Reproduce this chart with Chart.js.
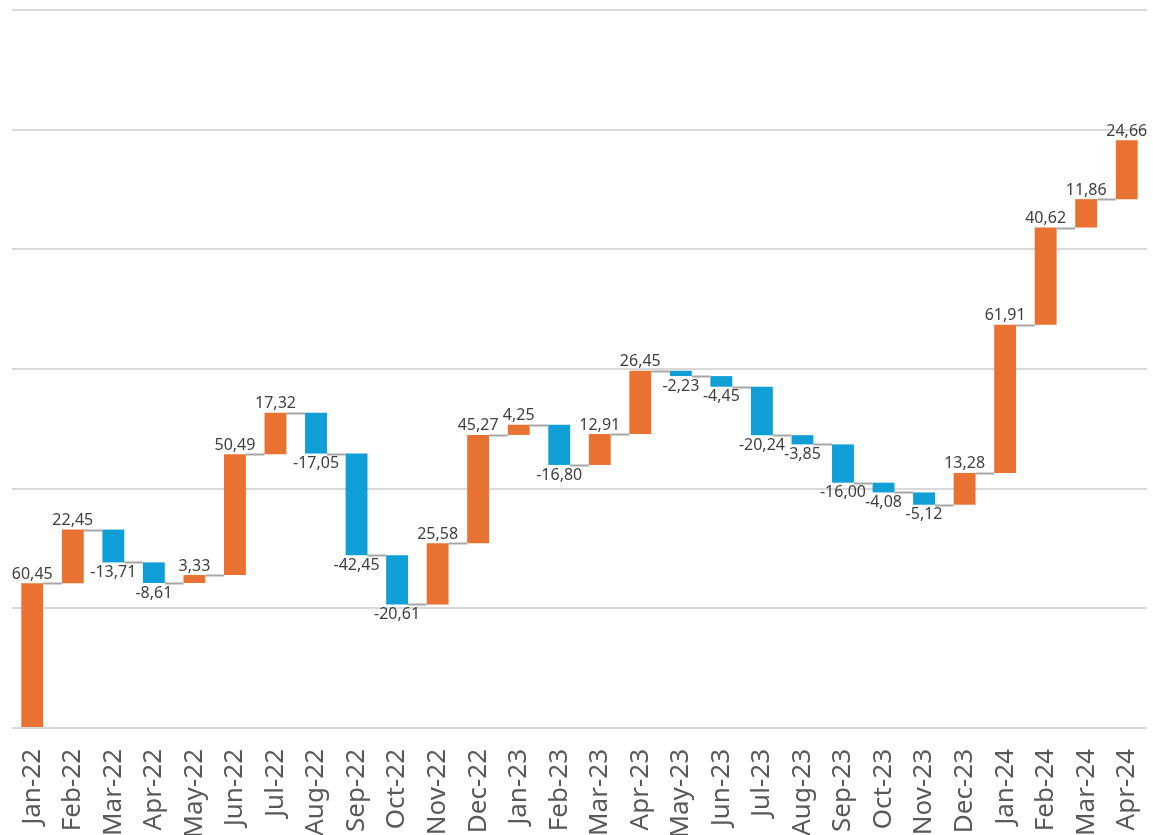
<!DOCTYPE html>
<html>
<head>
<meta charset="utf-8">
<script src="https://cdn.jsdelivr.net/npm/chart.js@4.4.1/dist/chart.umd.min.js"></script>
<style>
  html, body { margin: 0; padding: 0; background: #fff; overflow: hidden; }
  #wrap { position: relative; width: 1153px; height: 860px; }
</style>
</head>
<body>
<div id="wrap"><canvas id="chart"></canvas></div>
<script>
const categories = ['Jan-22', 'Feb-22', 'Mar-22', 'Apr-22', 'May-22', 'Jun-22', 'Jul-22', 'Aug-22',
    'Sep-22', 'Oct-22', 'Nov-22', 'Dec-22', 'Jan-23', 'Feb-23', 'Mar-23', 'Apr-23', 'May-23',
    'Jun-23', 'Jul-23', 'Aug-23', 'Sep-23', 'Oct-23', 'Nov-23', 'Dec-23', 'Jan-24', 'Feb-24',
    'Mar-24', 'Apr-24'];
const changes = [60.45, 22.45, -13.71, -8.61, 3.33, 50.49, 17.32, -17.05, -42.45, -20.61, 25.58,
    45.27, 4.25, -16.80, 12.91, 26.45, -2.23, -4.45, -20.24, -3.85, -16.00, -4.08, -5.12, 13.28,
    61.91, 40.62, 11.86, 24.66];
const yTicks = [0, 50, 100, 150, 200, 250, 300];

const orange = '#E97132';
const blue = '#0F9ED5';

// running totals -> floating bars
const ranges = [];
let total = 0;
changes.forEach(v => {
    ranges.push([total, total + v]);
    total += v;
});

function fmt(v) {
    return v.toFixed(2).replace('.', ',');
}

const waterfallExtras = {
    id: 'waterfallExtras',
    afterDatasetsDraw(chart) {
        const ctx = chart.ctx;
        const meta = chart.getDatasetMeta(0);
        const y = chart.scales.y;
        ctx.save();
        // connectors
        ctx.strokeStyle = '#a6a6a6';
        ctx.lineWidth = 2;
        for (let i = 0; i < meta.data.length - 1; i++) {
            const a = meta.data[i];
            const b = meta.data[i + 1];
            const py = Math.round(y.getPixelForValue(ranges[i][1])) + 0.5;
            ctx.beginPath();
            ctx.moveTo(a.x + a.width / 2, py);
            ctx.lineTo(b.x - b.width / 2, py);
            ctx.stroke();
        }
        // value labels
        ctx.font = '16px "Noto Sans", sans-serif';
        ctx.fillStyle = '#404040';
        ctx.textAlign = 'center';
        meta.data.forEach((bar, i) => {
            const v = changes[i];
            const top = y.getPixelForValue(Math.max(ranges[i][0], ranges[i][1]));
            const bottom = y.getPixelForValue(Math.min(ranges[i][0], ranges[i][1]));
            if (v >= 0) {
                ctx.textBaseline = 'bottom';
                ctx.fillText(fmt(v), bar.x, top - 1);
            } else {
                ctx.textBaseline = 'top';
                ctx.fillText(fmt(v), bar.x, bottom + 2);
            }
        });
        ctx.restore();
    }
};

new Chart(document.getElementById('chart'), {
    type: 'bar',
    data: {
        labels: categories,
        datasets: [{
            data: ranges,
            backgroundColor: changes.map(v => v >= 0 ? orange : blue),
            borderWidth: 0,
            borderSkipped: false,
            barPercentage: 0.54,
            categoryPercentage: 1
        }]
    },
    options: {
        responsive: true,
        maintainAspectRatio: false,
        animation: false,
        layout: { padding: { left: 12, right: 6, top: 10, bottom: 0 } },
        plugins: {
            legend: { display: false },
            tooltip: { enabled: false }
        },
        scales: {
            x: {
                grid: { display: false },
                border: { display: false },
                ticks: {
                    color: '#595959',
                    font: { family: '"Noto Sans", sans-serif', size: 26 },
                    minRotation: 90,
                    maxRotation: 90,
                    autoSkip: false,
                    padding: 13
                },
                afterFit(scale) {
                    scale.height = 132;
                    scale.paddingLeft = 0;
                    scale.paddingRight = 0;
                }
            },
            y: {
                min: yTicks[0],
                max: yTicks[yTicks.length - 1],
                afterBuildTicks(scale) { scale.ticks = yTicks.map(v => ({ value: v })); },
                grid: { color: '#d9d9d9', lineWidth: 2, drawTicks: false },
                border: { display: false },
                ticks: { display: false },
                afterFit(scale) { scale.width = 0; }
            }
        }
    },
    plugins: [waterfallExtras]
});
</script>
</body>
</html>
